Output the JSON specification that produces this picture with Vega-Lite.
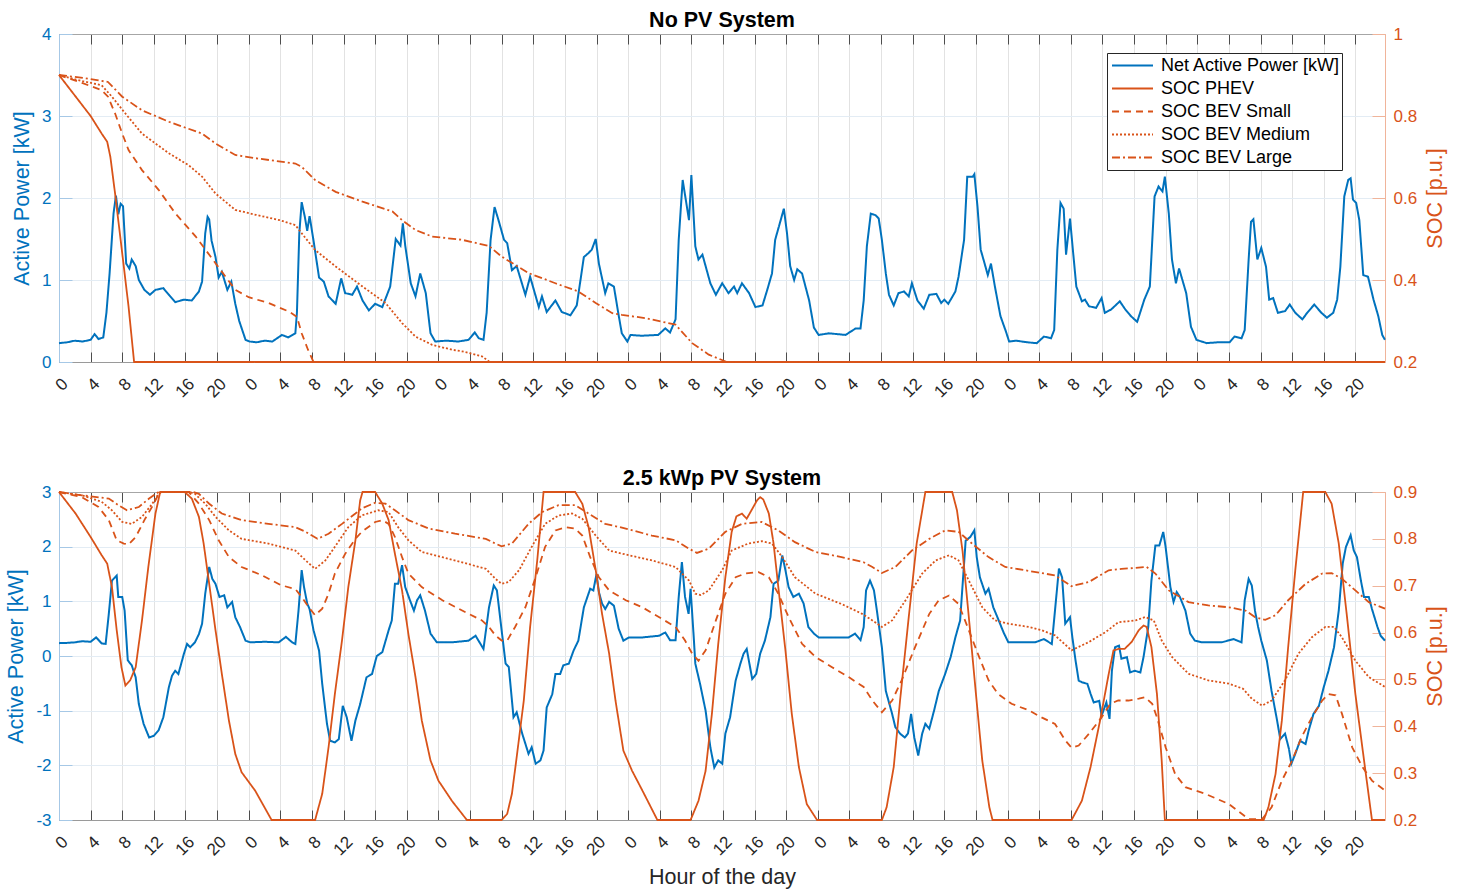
{
"$schema": "https://vega.github.io/schema/vega-lite/v6.json",
"padding": {"left": 5, "top": 9, "right": 5, "bottom": 5},
"background": "white",
"config": {
  "font": "Liberation Sans",
  "view": {"stroke": null},
  "title": {"fontSize": 21.5, "fontWeight": "bold", "color": "#000000", "offset": -6, "font": "Liberation Sans", "anchor": "middle", "frame": "group"},
  "axis": {"labelFont": "Liberation Sans", "titleFont": "Liberation Sans", "labelFontSize": 17, "titleFontSize": 21.5, "titleFontWeight": "normal"}
},
"datasets": {
"topP": [
{"h":0,"p":0.23},{"h":1,"p":0.24},{"h":2,"p":0.26},{"h":3,"p":0.25},{"h":4,"p":0.27},{"h":4.5,"p":0.34},{"h":5,"p":0.28},{"h":5.6,"p":0.3},{"h":6,"p":0.6},{"h":6.4,"p":1.08},{"h":6.9,"p":1.81},{"h":7.2,"p":2.03},{"h":7.5,"p":1.8},{"h":7.8,"p":1.93},{"h":8.1,"p":1.9},{"h":8.5,"p":1.2},{"h":8.9,"p":1.14},{"h":9.2,"p":1.25},{"h":9.7,"p":1.17},{"h":10.1,"p":1.0},{"h":10.8,"p":0.88},{"h":11.5,"p":0.82},{"h":12.2,"p":0.88},{"h":13.2,"p":0.9},{"h":13.9,"p":0.82},{"h":14.7,"p":0.73},{"h":15.8,"p":0.76},{"h":16.8,"p":0.75},{"h":17.7,"p":0.86},{"h":18.1,"p":0.98},{"h":18.5,"p":1.57},{"h":18.8,"p":1.77},{"h":19.0,"p":1.74},{"h":19.3,"p":1.48},{"h":19.8,"p":1.28},{"h":20.2,"p":1.03},{"h":20.6,"p":1.1},{"h":21.3,"p":0.88},{"h":21.8,"p":0.98},{"h":22.3,"p":0.71},{"h":22.8,"p":0.5},{"h":23.6,"p":0.27},{"h":24.1,"p":0.25},{"h":25,"p":0.24},{"h":26,"p":0.26},{"h":27,"p":0.25},{"h":28.2,"p":0.33},{"h":29,"p":0.3},{"h":29.9,"p":0.35},{"h":30.1,"p":0.6},{"h":30.4,"p":1.57},{"h":30.7,"p":1.95},{"h":31.1,"p":1.77},{"h":31.4,"p":1.6},{"h":31.7,"p":1.78},{"h":32.2,"p":1.48},{"h":32.9,"p":1.03},{"h":33.5,"p":0.98},{"h":34.1,"p":0.8},{"h":35,"p":0.71},{"h":35.7,"p":1.02},{"h":36.2,"p":0.84},{"h":37.1,"p":0.82},{"h":37.7,"p":0.92},{"h":38.4,"p":0.75},{"h":39.2,"p":0.63},{"h":40,"p":0.71},{"h":40.9,"p":0.67},{"h":41.9,"p":0.92},{"h":42.6,"p":1.5},{"h":43.2,"p":1.42},{"h":43.5,"p":1.69},{"h":43.8,"p":1.42},{"h":44.5,"p":0.96},{"h":45.1,"p":0.8},{"h":45.7,"p":1.08},{"h":46.4,"p":0.84},{"h":47,"p":0.35},{"h":47.6,"p":0.25},{"h":49,"p":0.26},{"h":50.5,"p":0.25},{"h":51.8,"p":0.27},{"h":52.6,"p":0.36},{"h":53.1,"p":0.29},{"h":53.7,"p":0.27},{"h":54.1,"p":0.6},{"h":54.6,"p":1.49},{"h":55.1,"p":1.89},{"h":55.6,"p":1.73},{"h":56.3,"p":1.49},{"h":56.7,"p":1.45},{"h":57.3,"p":1.12},{"h":57.9,"p":1.17},{"h":59,"p":0.82},{"h":59.6,"p":1.04},{"h":60.7,"p":0.67},{"h":61.1,"p":0.8},{"h":61.7,"p":0.61},{"h":62.8,"p":0.75},{"h":63.6,"p":0.61},{"h":64.7,"p":0.57},{"h":65.5,"p":0.69},{"h":66.4,"p":1.28},{"h":67,"p":1.33},{"h":67.4,"p":1.37},{"h":67.9,"p":1.5},{"h":68.3,"p":1.2},{"h":69.1,"p":0.84},{"h":69.5,"p":0.96},{"h":70.2,"p":0.92},{"h":70.8,"p":0.57},{"h":71.2,"p":0.35},{"h":71.9,"p":0.25},{"h":72.3,"p":0.33},{"h":73.7,"p":0.32},{"h":75.8,"p":0.33},{"h":76.7,"p":0.41},{"h":77.3,"p":0.36},{"h":78,"p":0.52},{"h":78.4,"p":1.49},{"h":78.9,"p":2.22},{"h":79.7,"p":1.73},{"h":80,"p":2.28},{"h":80.5,"p":1.41},{"h":80.9,"p":1.25},{"h":81.4,"p":1.31},{"h":81.8,"p":1.17},{"h":82.4,"p":0.96},{"h":83.1,"p":0.82},{"h":83.9,"p":0.96},{"h":84.7,"p":0.84},{"h":85.4,"p":0.92},{"h":85.8,"p":0.84},{"h":86.4,"p":0.96},{"h":87.3,"p":0.84},{"h":88.1,"p":0.67},{"h":89,"p":0.69},{"h":89.6,"p":0.88},{"h":90.2,"p":1.08},{"h":90.6,"p":1.49},{"h":91.3,"p":1.73},{"h":91.7,"p":1.87},{"h":92.1,"p":1.57},{"h":92.5,"p":1.17},{"h":93,"p":1.0},{"h":93.4,"p":1.13},{"h":94,"p":1.08},{"h":94.9,"p":0.75},{"h":95.5,"p":0.42},{"h":96.1,"p":0.33},{"h":97.4,"p":0.35},{"h":99.5,"p":0.33},{"h":100.8,"p":0.41},{"h":101.4,"p":0.41},{"h":101.8,"p":0.75},{"h":102.2,"p":1.41},{"h":102.7,"p":1.81},{"h":103.3,"p":1.79},{"h":103.7,"p":1.75},{"h":104.1,"p":1.49},{"h":104.6,"p":1.08},{"h":105,"p":0.82},{"h":105.6,"p":0.69},{"h":106.2,"p":0.84},{"h":106.9,"p":0.86},{"h":107.5,"p":0.8},{"h":107.9,"p":0.96},{"h":108.6,"p":0.75},{"h":109.4,"p":0.65},{"h":110.1,"p":0.82},{"h":111,"p":0.83},{"h":111.6,"p":0.72},{"h":112,"p":0.76},{"h":112.5,"p":0.71},{"h":113.4,"p":0.86},{"h":113.8,"p":1.04},{"h":114.5,"p":1.49},{"h":114.9,"p":2.26},{"h":115.6,"p":2.26},{"h":115.8,"p":2.29},{"h":116.2,"p":1.89},{"h":116.6,"p":1.37},{"h":117.1,"p":1.2},{"h":117.5,"p":1.06},{"h":117.9,"p":1.2},{"h":118.4,"p":0.92},{"h":119.1,"p":0.56},{"h":119.8,"p":0.37},{"h":120.2,"p":0.25},{"h":121.1,"p":0.26},{"h":122.5,"p":0.24},{"h":123.7,"p":0.23},{"h":124.6,"p":0.31},{"h":125.5,"p":0.29},{"h":125.9,"p":0.39},{"h":126.3,"p":1.37},{"h":126.7,"p":1.94},{"h":127.1,"p":1.87},{"h":127.4,"p":1.31},{"h":127.9,"p":1.75},{"h":128.3,"p":1.33},{"h":128.7,"p":0.92},{"h":129.4,"p":0.74},{"h":129.8,"p":0.76},{"h":130.3,"p":0.68},{"h":131.2,"p":0.66},{"h":131.9,"p":0.78},{"h":132.3,"p":0.6},{"h":133.1,"p":0.64},{"h":134.2,"p":0.74},{"h":134.9,"p":0.64},{"h":135.6,"p":0.56},{"h":136.4,"p":0.49},{"h":137.3,"p":0.76},{"h":138,"p":0.92},{"h":138.6,"p":2.02},{"h":139.1,"p":2.14},{"h":139.6,"p":2.08},{"h":139.9,"p":2.26},{"h":140.4,"p":1.81},{"h":140.8,"p":1.25},{"h":141.3,"p":0.96},{"h":141.7,"p":1.14},{"h":142.6,"p":0.84},{"h":143.2,"p":0.43},{"h":143.9,"p":0.27},{"h":145.2,"p":0.23},{"h":146.5,"p":0.24},{"h":148.1,"p":0.24},{"h":148.7,"p":0.31},{"h":149.6,"p":0.29},{"h":150,"p":0.39},{"h":150.5,"p":1.25},{"h":150.8,"p":1.71},{"h":151.1,"p":1.74},{"h":151.6,"p":1.25},{"h":152.1,"p":1.39},{"h":152.7,"p":1.16},{"h":153.1,"p":0.76},{"h":153.6,"p":0.78},{"h":154.2,"p":0.6},{"h":155.1,"p":0.62},{"h":155.7,"p":0.7},{"h":156.4,"p":0.6},{"h":157.3,"p":0.52},{"h":157.9,"p":0.6},{"h":158.8,"p":0.7},{"h":159.7,"p":0.6},{"h":160.4,"p":0.54},{"h":161.2,"p":0.6},{"h":161.7,"p":0.76},{"h":162.1,"p":1.16},{"h":162.6,"p":2.02},{"h":163.1,"p":2.22},{"h":163.4,"p":2.24},{"h":163.7,"p":1.98},{"h":164.1,"p":1.94},{"h":164.5,"p":1.73},{"h":165,"p":1.06},{"h":165.6,"p":1.04},{"h":166.3,"p":0.76},{"h":166.9,"p":0.56},{"h":167.4,"p":0.33},{"h":167.75,"p":0.27}
],
"topS": [
{"s":"SOC PHEV","h":0,"v":0.9},{"s":"SOC PHEV","h":2,"v":0.85},{"s":"SOC PHEV","h":4,"v":0.8},{"s":"SOC PHEV","h":5.4,"v":0.757},{"s":"SOC PHEV","h":6.1,"v":0.737},{"s":"SOC PHEV","h":6.5,"v":0.7},{"s":"SOC PHEV","h":7.1,"v":0.61},{"s":"SOC PHEV","h":8,"v":0.465},{"s":"SOC PHEV","h":8.8,"v":0.335},{"s":"SOC PHEV","h":9.5,"v":0.2},{"s":"SOC PHEV","h":167.75,"v":0.2},
{"s":"SOC BEV Small","h":0,"v":0.9},{"s":"SOC BEV Small","h":3,"v":0.88},{"s":"SOC BEV Small","h":5.4,"v":0.863},{"s":"SOC BEV Small","h":6.2,"v":0.847},{"s":"SOC BEV Small","h":7.1,"v":0.806},{"s":"SOC BEV Small","h":8,"v":0.757},{"s":"SOC BEV Small","h":8.8,"v":0.717},{"s":"SOC BEV Small","h":10.5,"v":0.668},{"s":"SOC BEV Small","h":12.6,"v":0.62},{"s":"SOC BEV Small","h":14.7,"v":0.563},{"s":"SOC BEV Small","h":17.3,"v":0.506},{"s":"SOC BEV Small","h":19.8,"v":0.441},{"s":"SOC BEV Small","h":22.3,"v":0.376},{"s":"SOC BEV Small","h":24,"v":0.358},{"s":"SOC BEV Small","h":26.5,"v":0.344},{"s":"SOC BEV Small","h":29.2,"v":0.322},{"s":"SOC BEV Small","h":30.1,"v":0.31},{"s":"SOC BEV Small","h":30.7,"v":0.27},{"s":"SOC BEV Small","h":31.5,"v":0.23},{"s":"SOC BEV Small","h":32.2,"v":0.2},{"s":"SOC BEV Small","h":167.75,"v":0.2},
{"s":"SOC BEV Medium","h":0,"v":0.9},{"s":"SOC BEV Medium","h":3,"v":0.885},{"s":"SOC BEV Medium","h":5.4,"v":0.875},{"s":"SOC BEV Medium","h":6.7,"v":0.847},{"s":"SOC BEV Medium","h":8.4,"v":0.806},{"s":"SOC BEV Medium","h":10.5,"v":0.757},{"s":"SOC BEV Medium","h":13.9,"v":0.709},{"s":"SOC BEV Medium","h":16.4,"v":0.68},{"s":"SOC BEV Medium","h":18.1,"v":0.652},{"s":"SOC BEV Medium","h":19.8,"v":0.611},{"s":"SOC BEV Medium","h":22.3,"v":0.571},{"s":"SOC BEV Medium","h":24.9,"v":0.559},{"s":"SOC BEV Medium","h":27.9,"v":0.546},{"s":"SOC BEV Medium","h":29.9,"v":0.534},{"s":"SOC BEV Medium","h":30.7,"v":0.514},{"s":"SOC BEV Medium","h":32.4,"v":0.473},{"s":"SOC BEV Medium","h":35,"v":0.433},{"s":"SOC BEV Medium","h":38.4,"v":0.384},{"s":"SOC BEV Medium","h":41.3,"v":0.344},{"s":"SOC BEV Medium","h":43.4,"v":0.295},{"s":"SOC BEV Medium","h":45.1,"v":0.262},{"s":"SOC BEV Medium","h":47.2,"v":0.242},{"s":"SOC BEV Medium","h":49.7,"v":0.23},{"s":"SOC BEV Medium","h":51,"v":0.226},{"s":"SOC BEV Medium","h":53.5,"v":0.214},{"s":"SOC BEV Medium","h":54.5,"v":0.2},{"s":"SOC BEV Medium","h":167.75,"v":0.2},
{"s":"SOC BEV Large","h":0,"v":0.9},{"s":"SOC BEV Large","h":3,"v":0.893},{"s":"SOC BEV Large","h":6.2,"v":0.883},{"s":"SOC BEV Large","h":8,"v":0.847},{"s":"SOC BEV Large","h":10.5,"v":0.814},{"s":"SOC BEV Large","h":13.9,"v":0.786},{"s":"SOC BEV Large","h":18.1,"v":0.757},{"s":"SOC BEV Large","h":19.8,"v":0.733},{"s":"SOC BEV Large","h":22.3,"v":0.705},{"s":"SOC BEV Large","h":24.9,"v":0.697},{"s":"SOC BEV Large","h":29.9,"v":0.684},{"s":"SOC BEV Large","h":30.7,"v":0.676},{"s":"SOC BEV Large","h":32.4,"v":0.644},{"s":"SOC BEV Large","h":35,"v":0.615},{"s":"SOC BEV Large","h":38.4,"v":0.591},{"s":"SOC BEV Large","h":42.2,"v":0.567},{"s":"SOC BEV Large","h":43.4,"v":0.546},{"s":"SOC BEV Large","h":45.1,"v":0.522},{"s":"SOC BEV Large","h":47.2,"v":0.506},{"s":"SOC BEV Large","h":51,"v":0.498},{"s":"SOC BEV Large","h":54.4,"v":0.483},{"s":"SOC BEV Large","h":56,"v":0.457},{"s":"SOC BEV Large","h":59.4,"v":0.417},{"s":"SOC BEV Large","h":62.8,"v":0.392},{"s":"SOC BEV Large","h":65.7,"v":0.372},{"s":"SOC BEV Large","h":67.9,"v":0.344},{"s":"SOC BEV Large","h":70,"v":0.319},{"s":"SOC BEV Large","h":71.2,"v":0.315},{"s":"SOC BEV Large","h":74.2,"v":0.307},{"s":"SOC BEV Large","h":78,"v":0.291},{"s":"SOC BEV Large","h":80.1,"v":0.246},{"s":"SOC BEV Large","h":82.2,"v":0.218},{"s":"SOC BEV Large","h":84.5,"v":0.2},{"s":"SOC BEV Large","h":167.75,"v":0.2}
],
"botP": [
{"h":0,"p":0.235},{"h":1,"p":0.24},{"h":2,"p":0.25},{"h":2.9,"p":0.27},{"h":4,"p":0.26},{"h":4.7,"p":0.34},{"h":5.4,"p":0.23},{"h":5.9,"p":0.22},{"h":6.3,"p":0.77},{"h":6.7,"p":1.38},{"h":7.3,"p":1.47},{"h":7.5,"p":1.08},{"h":8,"p":1.08},{"h":8.3,"p":0.83},{"h":8.7,"p":-0.08},{"h":9.2,"p":-0.17},{"h":9.7,"p":-0.39},{"h":10.1,"p":-0.88},{"h":10.7,"p":-1.24},{"h":11.4,"p":-1.49},{"h":12,"p":-1.46},{"h":12.6,"p":-1.36},{"h":13.2,"p":-1.12},{"h":13.9,"p":-0.57},{"h":14.3,"p":-0.36},{"h":14.7,"p":-0.27},{"h":15.1,"p":-0.33},{"h":15.8,"p":0.04},{"h":16.2,"p":0.22},{"h":16.6,"p":0.16},{"h":17.2,"p":0.25},{"h":17.7,"p":0.4},{"h":18.1,"p":0.59},{"h":18.5,"p":1.14},{"h":19,"p":1.63},{"h":19.4,"p":1.41},{"h":19.8,"p":1.32},{"h":20.3,"p":1.08},{"h":20.9,"p":1.11},{"h":21.3,"p":0.89},{"h":21.9,"p":0.99},{"h":22.3,"p":0.71},{"h":22.9,"p":0.53},{"h":23.6,"p":0.28},{"h":24.2,"p":0.25},{"h":26,"p":0.26},{"h":27.8,"p":0.25},{"h":28.7,"p":0.35},{"h":29.5,"p":0.25},{"h":29.9,"p":0.22},{"h":30.3,"p":0.83},{"h":30.7,"p":1.57},{"h":31,"p":1.26},{"h":31.4,"p":0.96},{"h":31.7,"p":0.86},{"h":32.2,"p":0.47},{"h":32.9,"p":0.1},{"h":33.3,"p":-0.51},{"h":33.9,"p":-1.24},{"h":34.3,"p":-1.55},{"h":34.9,"p":-1.58},{"h":35.4,"p":-1.52},{"h":35.9,"p":-0.91},{"h":36.4,"p":-1.12},{"h":37,"p":-1.55},{"h":37.5,"p":-1.18},{"h":38.1,"p":-0.88},{"h":38.9,"p":-0.39},{"h":39.6,"p":-0.33},{"h":40.2,"p":0.0},{"h":40.9,"p":0.07},{"h":41.7,"p":0.47},{"h":42.1,"p":0.65},{"h":42.5,"p":1.32},{"h":42.9,"p":1.32},{"h":43.4,"p":1.66},{"h":43.8,"p":1.26},{"h":44.4,"p":1.02},{"h":44.9,"p":0.83},{"h":45.3,"p":1.02},{"h":45.7,"p":1.11},{"h":46.3,"p":0.83},{"h":47,"p":0.41},{"h":47.8,"p":0.25},{"h":49.7,"p":0.25},{"h":51.8,"p":0.28},{"h":52.7,"p":0.37},{"h":53.7,"p":0.13},{"h":54.4,"p":0.89},{"h":55,"p":1.29},{"h":55.4,"p":1.2},{"h":55.8,"p":0.71},{"h":56.5,"p":-0.14},{"h":56.9,"p":-0.2},{"h":57.5,"p":-1.12},{"h":57.9,"p":-1.03},{"h":58.6,"p":-1.42},{"h":59.4,"p":-1.79},{"h":59.8,"p":-1.67},{"h":60.3,"p":-1.97},{"h":60.9,"p":-1.91},{"h":61.3,"p":-1.73},{"h":61.7,"p":-0.94},{"h":62.4,"p":-0.7},{"h":62.8,"p":-0.33},{"h":63.4,"p":-0.33},{"h":63.8,"p":-0.17},{"h":64.5,"p":-0.14},{"h":65.1,"p":0.1},{"h":65.7,"p":0.28},{"h":66.4,"p":0.89},{"h":67.2,"p":1.23},{"h":67.6,"p":1.2},{"h":68,"p":1.5},{"h":68.3,"p":1.17},{"h":68.7,"p":0.96},{"h":69.1,"p":0.86},{"h":69.6,"p":0.99},{"h":70.2,"p":0.92},{"h":70.8,"p":0.5},{"h":71.4,"p":0.28},{"h":72.1,"p":0.34},{"h":73.8,"p":0.34},{"h":75.9,"p":0.37},{"h":76.7,"p":0.43},{"h":77.3,"p":0.29},{"h":78,"p":0.29},{"h":78.4,"p":1.08},{"h":78.8,"p":1.72},{"h":79.2,"p":1.08},{"h":79.65,"p":0.77},{"h":79.9,"p":1.23},{"h":80.3,"p":0.34},{"h":80.5,"p":-0.14},{"h":81.1,"p":-0.51},{"h":81.8,"p":-1.0},{"h":82.4,"p":-1.67},{"h":82.9,"p":-2.04},{"h":83.4,"p":-1.91},{"h":83.9,"p":-1.97},{"h":84.3,"p":-1.42},{"h":84.9,"p":-1.12},{"h":85.6,"p":-0.45},{"h":86.2,"p":-0.14},{"h":86.6,"p":0.04},{"h":87,"p":0.13},{"h":87.7,"p":-0.42},{"h":88.2,"p":-0.33},{"h":88.7,"p":0.04},{"h":89.3,"p":0.28},{"h":90,"p":0.71},{"h":90.4,"p":1.32},{"h":91,"p":1.38},{"h":91.5,"p":1.84},{"h":91.9,"p":1.57},{"h":92.3,"p":1.26},{"h":92.9,"p":1.08},{"h":93.6,"p":1.14},{"h":94.2,"p":0.96},{"h":94.8,"p":0.53},{"h":95.5,"p":0.41},{"h":96.1,"p":0.34},{"h":97.8,"p":0.34},{"h":99.9,"p":0.34},{"h":100.7,"p":0.41},{"h":101.4,"p":0.29},{"h":101.8,"p":0.53},{"h":102.1,"p":1.2},{"h":102.6,"p":1.38},{"h":103.1,"p":1.2},{"h":103.5,"p":0.8},{"h":104.1,"p":0.16},{"h":104.6,"p":-0.64},{"h":105.4,"p":-1.06},{"h":105.8,"p":-1.3},{"h":106.4,"p":-1.42},{"h":107,"p":-1.49},{"h":107.4,"p":-1.42},{"h":107.8,"p":-1.06},{"h":108.2,"p":-1.49},{"h":108.7,"p":-1.82},{"h":109.2,"p":-1.42},{"h":109.6,"p":-1.24},{"h":110.1,"p":-1.33},{"h":110.7,"p":-1.0},{"h":111.3,"p":-0.64},{"h":112.1,"p":-0.33},{"h":112.8,"p":-0.02},{"h":113.4,"p":0.34},{"h":114,"p":0.65},{"h":114.7,"p":2.11},{"h":115.3,"p":2.18},{"h":115.8,"p":2.3},{"h":116.1,"p":1.81},{"h":116.5,"p":1.44},{"h":117.2,"p":1.14},{"h":117.6,"p":1.23},{"h":118.2,"p":0.89},{"h":118.8,"p":0.68},{"h":119.5,"p":0.43},{"h":120.1,"p":0.25},{"h":122,"p":0.25},{"h":123.5,"p":0.25},{"h":124.6,"p":0.31},{"h":125.6,"p":0.22},{"h":126,"p":0.83},{"h":126.5,"p":1.6},{"h":126.9,"p":1.44},{"h":127.3,"p":0.59},{"h":127.9,"p":0.71},{"h":128.2,"p":0.34},{"h":128.6,"p":-0.08},{"h":129,"p":-0.45},{"h":129.4,"p":-0.48},{"h":130.1,"p":-0.51},{"h":130.5,"p":-0.69},{"h":130.9,"p":-0.85},{"h":131.6,"p":-0.82},{"h":131.9,"p":-1.09},{"h":132.5,"p":-0.85},{"h":132.9,"p":-1.15},{"h":133.2,"p":-0.27},{"h":133.6,"p":0.16},{"h":134.1,"p":0.19},{"h":134.4,"p":-0.05},{"h":135.1,"p":-0.02},{"h":135.5,"p":-0.3},{"h":136.1,"p":-0.27},{"h":136.8,"p":-0.3},{"h":137.2,"p":-0.02},{"h":137.8,"p":0.53},{"h":138.2,"p":1.38},{"h":138.7,"p":2.02},{"h":139.2,"p":2.02},{"h":139.7,"p":2.27},{"h":140,"p":1.99},{"h":140.6,"p":1.26},{"h":141,"p":0.99},{"h":141.4,"p":1.17},{"h":141.8,"p":1.08},{"h":142.5,"p":0.83},{"h":143.1,"p":0.41},{"h":143.7,"p":0.28},{"h":144.6,"p":0.25},{"h":147.1,"p":0.25},{"h":148.6,"p":0.31},{"h":149.6,"p":0.25},{"h":150,"p":1.02},{"h":150.5,"p":1.41},{"h":150.9,"p":1.29},{"h":151.3,"p":0.83},{"h":151.7,"p":0.53},{"h":152.1,"p":0.28},{"h":152.8,"p":-0.08},{"h":153.4,"p":-0.64},{"h":154.1,"p":-1.18},{"h":154.5,"p":-1.52},{"h":155.1,"p":-1.42},{"h":155.6,"p":-1.7},{"h":155.9,"p":-1.97},{"h":156.4,"p":-1.79},{"h":157,"p":-1.55},{"h":157.7,"p":-1.61},{"h":158.1,"p":-1.36},{"h":158.7,"p":-1.06},{"h":159.4,"p":-0.91},{"h":160,"p":-0.57},{"h":160.6,"p":-0.27},{"h":161.3,"p":0.16},{"h":161.9,"p":0.83},{"h":162.4,"p":1.69},{"h":162.8,"p":1.99},{"h":163.4,"p":2.21},{"h":163.8,"p":1.93},{"h":164.2,"p":1.81},{"h":164.7,"p":1.38},{"h":165.1,"p":1.08},{"h":165.7,"p":1.08},{"h":166.1,"p":0.86},{"h":166.8,"p":0.53},{"h":167.2,"p":0.37},{"h":167.75,"p":0.28}
],
"botS": [
{"s":"SOC PHEV","h":0,"v":0.9},{"s":"SOC PHEV","h":2.1,"v":0.854},{"s":"SOC PHEV","h":4,"v":0.804},{"s":"SOC PHEV","h":5.4,"v":0.765},{"s":"SOC PHEV","h":6.1,"v":0.747},{"s":"SOC PHEV","h":6.7,"v":0.697},{"s":"SOC PHEV","h":7.3,"v":0.605},{"s":"SOC PHEV","h":7.9,"v":0.526},{"s":"SOC PHEV","h":8.4,"v":0.487},{"s":"SOC PHEV","h":9,"v":0.498},{"s":"SOC PHEV","h":9.7,"v":0.526},{"s":"SOC PHEV","h":10.5,"v":0.626},{"s":"SOC PHEV","h":11.3,"v":0.74},{"s":"SOC PHEV","h":12.2,"v":0.854},{"s":"SOC PHEV","h":12.8,"v":0.9},{"s":"SOC PHEV","h":15.9,"v":0.9},{"s":"SOC PHEV","h":16.8,"v":0.886},{"s":"SOC PHEV","h":17.7,"v":0.847},{"s":"SOC PHEV","h":18.3,"v":0.79},{"s":"SOC PHEV","h":19,"v":0.704},{"s":"SOC PHEV","h":19.8,"v":0.605},{"s":"SOC PHEV","h":20.6,"v":0.512},{"s":"SOC PHEV","h":21.5,"v":0.412},{"s":"SOC PHEV","h":22.3,"v":0.341},{"s":"SOC PHEV","h":23.1,"v":0.302},{"s":"SOC PHEV","h":24.8,"v":0.263},{"s":"SOC PHEV","h":26.9,"v":0.2},{"s":"SOC PHEV","h":32.4,"v":0.2},{"s":"SOC PHEV","h":33.3,"v":0.256},{"s":"SOC PHEV","h":34.1,"v":0.355},{"s":"SOC PHEV","h":34.9,"v":0.469},{"s":"SOC PHEV","h":35.8,"v":0.583},{"s":"SOC PHEV","h":36.6,"v":0.697},{"s":"SOC PHEV","h":37.5,"v":0.797},{"s":"SOC PHEV","h":38.1,"v":0.882},{"s":"SOC PHEV","h":38.4,"v":0.9},{"s":"SOC PHEV","h":40,"v":0.9},{"s":"SOC PHEV","h":40.9,"v":0.875},{"s":"SOC PHEV","h":41.7,"v":0.84},{"s":"SOC PHEV","h":42.5,"v":0.768},{"s":"SOC PHEV","h":43.4,"v":0.69},{"s":"SOC PHEV","h":44.2,"v":0.597},{"s":"SOC PHEV","h":45.1,"v":0.505},{"s":"SOC PHEV","h":45.9,"v":0.412},{"s":"SOC PHEV","h":47,"v":0.327},{"s":"SOC PHEV","h":48,"v":0.284},{"s":"SOC PHEV","h":49.7,"v":0.241},{"s":"SOC PHEV","h":51.6,"v":0.2},{"s":"SOC PHEV","h":56,"v":0.2},{"s":"SOC PHEV","h":56.7,"v":0.213},{"s":"SOC PHEV","h":57.3,"v":0.256},{"s":"SOC PHEV","h":57.9,"v":0.334},{"s":"SOC PHEV","h":58.8,"v":0.455},{"s":"SOC PHEV","h":59.6,"v":0.612},{"s":"SOC PHEV","h":60.5,"v":0.754},{"s":"SOC PHEV","h":61.3,"v":0.9},{"s":"SOC PHEV","h":65.3,"v":0.9},{"s":"SOC PHEV","h":66.2,"v":0.875},{"s":"SOC PHEV","h":67,"v":0.825},{"s":"SOC PHEV","h":67.9,"v":0.733},{"s":"SOC PHEV","h":68.7,"v":0.64},{"s":"SOC PHEV","h":69.6,"v":0.555},{"s":"SOC PHEV","h":70.4,"v":0.455},{"s":"SOC PHEV","h":71.4,"v":0.348},{"s":"SOC PHEV","h":72.5,"v":0.305},{"s":"SOC PHEV","h":73.8,"v":0.263},{"s":"SOC PHEV","h":75.7,"v":0.2},{"s":"SOC PHEV","h":79.9,"v":0.2},{"s":"SOC PHEV","h":80.9,"v":0.241},{"s":"SOC PHEV","h":81.8,"v":0.305},{"s":"SOC PHEV","h":82.6,"v":0.427},{"s":"SOC PHEV","h":83.4,"v":0.576},{"s":"SOC PHEV","h":84.3,"v":0.718},{"s":"SOC PHEV","h":85.1,"v":0.815},{"s":"SOC PHEV","h":85.7,"v":0.848},{"s":"SOC PHEV","h":86.4,"v":0.854},{"s":"SOC PHEV","h":87,"v":0.843},{"s":"SOC PHEV","h":87.6,"v":0.861},{"s":"SOC PHEV","h":88.3,"v":0.882},{"s":"SOC PHEV","h":88.7,"v":0.889},{"s":"SOC PHEV","h":89.1,"v":0.884},{"s":"SOC PHEV","h":89.8,"v":0.854},{"s":"SOC PHEV","h":90.4,"v":0.79},{"s":"SOC PHEV","h":91,"v":0.697},{"s":"SOC PHEV","h":91.9,"v":0.562},{"s":"SOC PHEV","h":92.7,"v":0.427},{"s":"SOC PHEV","h":93.6,"v":0.313},{"s":"SOC PHEV","h":94.6,"v":0.234},{"s":"SOC PHEV","h":95.9,"v":0.2},{"s":"SOC PHEV","h":104.1,"v":0.2},{"s":"SOC PHEV","h":104.7,"v":0.227},{"s":"SOC PHEV","h":105.6,"v":0.313},{"s":"SOC PHEV","h":106.4,"v":0.455},{"s":"SOC PHEV","h":107.5,"v":0.633},{"s":"SOC PHEV","h":108.5,"v":0.79},{"s":"SOC PHEV","h":109.6,"v":0.9},{"s":"SOC PHEV","h":113,"v":0.9},{"s":"SOC PHEV","h":113.6,"v":0.861},{"s":"SOC PHEV","h":114.3,"v":0.775},{"s":"SOC PHEV","h":115.1,"v":0.633},{"s":"SOC PHEV","h":116,"v":0.469},{"s":"SOC PHEV","h":116.8,"v":0.327},{"s":"SOC PHEV","h":117.7,"v":0.227},{"s":"SOC PHEV","h":118.1,"v":0.2},{"s":"SOC PHEV","h":128.1,"v":0.2},{"s":"SOC PHEV","h":129.4,"v":0.241},{"s":"SOC PHEV","h":130.5,"v":0.313},{"s":"SOC PHEV","h":131.7,"v":0.412},{"s":"SOC PHEV","h":132.8,"v":0.512},{"s":"SOC PHEV","h":133.4,"v":0.562},{"s":"SOC PHEV","h":134,"v":0.565},{"s":"SOC PHEV","h":134.8,"v":0.565},{"s":"SOC PHEV","h":135.7,"v":0.58},{"s":"SOC PHEV","h":136.6,"v":0.605},{"s":"SOC PHEV","h":137.2,"v":0.615},{"s":"SOC PHEV","h":137.6,"v":0.612},{"s":"SOC PHEV","h":138.2,"v":0.569},{"s":"SOC PHEV","h":138.9,"v":0.469},{"s":"SOC PHEV","h":139.5,"v":0.327},{"s":"SOC PHEV","h":139.9,"v":0.2},{"s":"SOC PHEV","h":152.4,"v":0.2},{"s":"SOC PHEV","h":153,"v":0.227},{"s":"SOC PHEV","h":153.9,"v":0.298},{"s":"SOC PHEV","h":154.7,"v":0.412},{"s":"SOC PHEV","h":155.5,"v":0.569},{"s":"SOC PHEV","h":156.4,"v":0.733},{"s":"SOC PHEV","h":157.4,"v":0.9},{"s":"SOC PHEV","h":160.2,"v":0.9},{"s":"SOC PHEV","h":161,"v":0.875},{"s":"SOC PHEV","h":161.9,"v":0.79},{"s":"SOC PHEV","h":162.9,"v":0.64},{"s":"SOC PHEV","h":164,"v":0.469},{"s":"SOC PHEV","h":165.1,"v":0.327},{"s":"SOC PHEV","h":166.1,"v":0.2},{"s":"SOC PHEV","h":167.75,"v":0.2},
{"s":"SOC BEV Small","h":0,"v":0.9},{"s":"SOC BEV Small","h":2.9,"v":0.889},{"s":"SOC BEV Small","h":5,"v":0.868},{"s":"SOC BEV Small","h":6.3,"v":0.84},{"s":"SOC BEV Small","h":7.3,"v":0.797},{"s":"SOC BEV Small","h":8.2,"v":0.79},{"s":"SOC BEV Small","h":8.8,"v":0.788},{"s":"SOC BEV Small","h":9.7,"v":0.804},{"s":"SOC BEV Small","h":10.9,"v":0.843},{"s":"SOC BEV Small","h":12,"v":0.875},{"s":"SOC BEV Small","h":12.6,"v":0.896},{"s":"SOC BEV Small","h":13,"v":0.9},{"s":"SOC BEV Small","h":16.4,"v":0.9},{"s":"SOC BEV Small","h":17.7,"v":0.875},{"s":"SOC BEV Small","h":19,"v":0.84},{"s":"SOC BEV Small","h":20.2,"v":0.797},{"s":"SOC BEV Small","h":21.5,"v":0.761},{"s":"SOC BEV Small","h":23.1,"v":0.74},{"s":"SOC BEV Small","h":25.7,"v":0.722},{"s":"SOC BEV Small","h":28.1,"v":0.701},{"s":"SOC BEV Small","h":29.9,"v":0.693},{"s":"SOC BEV Small","h":30.7,"v":0.676},{"s":"SOC BEV Small","h":31.6,"v":0.654},{"s":"SOC BEV Small","h":32.4,"v":0.637},{"s":"SOC BEV Small","h":33.3,"v":0.651},{"s":"SOC BEV Small","h":34.1,"v":0.683},{"s":"SOC BEV Small","h":34.9,"v":0.726},{"s":"SOC BEV Small","h":36.2,"v":0.768},{"s":"SOC BEV Small","h":37.5,"v":0.8},{"s":"SOC BEV Small","h":38.3,"v":0.815},{"s":"SOC BEV Small","h":40,"v":0.836},{"s":"SOC BEV Small","h":40.9,"v":0.84},{"s":"SOC BEV Small","h":41.7,"v":0.832},{"s":"SOC BEV Small","h":42.5,"v":0.804},{"s":"SOC BEV Small","h":43.4,"v":0.761},{"s":"SOC BEV Small","h":44.2,"v":0.726},{"s":"SOC BEV Small","h":45.9,"v":0.697},{"s":"SOC BEV Small","h":48.5,"v":0.669},{"s":"SOC BEV Small","h":51,"v":0.647},{"s":"SOC BEV Small","h":53.5,"v":0.626},{"s":"SOC BEV Small","h":54.4,"v":0.612},{"s":"SOC BEV Small","h":55.2,"v":0.594},{"s":"SOC BEV Small","h":56,"v":0.583},{"s":"SOC BEV Small","h":56.7,"v":0.583},{"s":"SOC BEV Small","h":57.7,"v":0.612},{"s":"SOC BEV Small","h":59,"v":0.654},{"s":"SOC BEV Small","h":60.3,"v":0.718},{"s":"SOC BEV Small","h":61.5,"v":0.783},{"s":"SOC BEV Small","h":62.8,"v":0.818},{"s":"SOC BEV Small","h":64.1,"v":0.825},{"s":"SOC BEV Small","h":65.3,"v":0.822},{"s":"SOC BEV Small","h":66.2,"v":0.807},{"s":"SOC BEV Small","h":67.2,"v":0.761},{"s":"SOC BEV Small","h":68.3,"v":0.718},{"s":"SOC BEV Small","h":69.6,"v":0.69},{"s":"SOC BEV Small","h":71.7,"v":0.669},{"s":"SOC BEV Small","h":73.8,"v":0.654},{"s":"SOC BEV Small","h":76.3,"v":0.629},{"s":"SOC BEV Small","h":78,"v":0.612},{"s":"SOC BEV Small","h":79.2,"v":0.583},{"s":"SOC BEV Small","h":80.1,"v":0.555},{"s":"SOC BEV Small","h":80.9,"v":0.54},{"s":"SOC BEV Small","h":81.8,"v":0.562},{"s":"SOC BEV Small","h":83.1,"v":0.626},{"s":"SOC BEV Small","h":84.3,"v":0.683},{"s":"SOC BEV Small","h":85.6,"v":0.718},{"s":"SOC BEV Small","h":86.8,"v":0.726},{"s":"SOC BEV Small","h":88.5,"v":0.729},{"s":"SOC BEV Small","h":89.8,"v":0.718},{"s":"SOC BEV Small","h":91,"v":0.683},{"s":"SOC BEV Small","h":92.3,"v":0.633},{"s":"SOC BEV Small","h":94,"v":0.576},{"s":"SOC BEV Small","h":95.7,"v":0.548},{"s":"SOC BEV Small","h":97.8,"v":0.526},{"s":"SOC BEV Small","h":99.9,"v":0.505},{"s":"SOC BEV Small","h":101.8,"v":0.484},{"s":"SOC BEV Small","h":102.9,"v":0.455},{"s":"SOC BEV Small","h":104.1,"v":0.43},{"s":"SOC BEV Small","h":105.4,"v":0.455},{"s":"SOC BEV Small","h":106.6,"v":0.498},{"s":"SOC BEV Small","h":108.3,"v":0.569},{"s":"SOC BEV Small","h":110.1,"v":0.64},{"s":"SOC BEV Small","h":111.3,"v":0.669},{"s":"SOC BEV Small","h":112.6,"v":0.679},{"s":"SOC BEV Small","h":113.8,"v":0.661},{"s":"SOC BEV Small","h":115.1,"v":0.605},{"s":"SOC BEV Small","h":116.4,"v":0.548},{"s":"SOC BEV Small","h":117.6,"v":0.498},{"s":"SOC BEV Small","h":118.8,"v":0.469},{"s":"SOC BEV Small","h":120.5,"v":0.448},{"s":"SOC BEV Small","h":122.7,"v":0.434},{"s":"SOC BEV Small","h":124.3,"v":0.419},{"s":"SOC BEV Small","h":126,"v":0.405},{"s":"SOC BEV Small","h":127.3,"v":0.37},{"s":"SOC BEV Small","h":128.1,"v":0.354},{"s":"SOC BEV Small","h":129,"v":0.359},{"s":"SOC BEV Small","h":130.3,"v":0.384},{"s":"SOC BEV Small","h":131.9,"v":0.419},{"s":"SOC BEV Small","h":133,"v":0.448},{"s":"SOC BEV Small","h":134,"v":0.455},{"s":"SOC BEV Small","h":135.3,"v":0.455},{"s":"SOC BEV Small","h":136.6,"v":0.459},{"s":"SOC BEV Small","h":137.4,"v":0.462},{"s":"SOC BEV Small","h":138.3,"v":0.448},{"s":"SOC BEV Small","h":138.9,"v":0.419},{"s":"SOC BEV Small","h":140,"v":0.355},{"s":"SOC BEV Small","h":141.2,"v":0.298},{"s":"SOC BEV Small","h":142.5,"v":0.27},{"s":"SOC BEV Small","h":145,"v":0.256},{"s":"SOC BEV Small","h":148,"v":0.234},{"s":"SOC BEV Small","h":150.5,"v":0.202},{"s":"SOC BEV Small","h":152.2,"v":0.202},{"s":"SOC BEV Small","h":153.4,"v":0.227},{"s":"SOC BEV Small","h":154.7,"v":0.284},{"s":"SOC BEV Small","h":156,"v":0.327},{"s":"SOC BEV Small","h":157.2,"v":0.377},{"s":"SOC BEV Small","h":158.5,"v":0.419},{"s":"SOC BEV Small","h":159.8,"v":0.455},{"s":"SOC BEV Small","h":160.6,"v":0.469},{"s":"SOC BEV Small","h":161.5,"v":0.466},{"s":"SOC BEV Small","h":162.3,"v":0.427},{"s":"SOC BEV Small","h":163.6,"v":0.355},{"s":"SOC BEV Small","h":164.9,"v":0.313},{"s":"SOC BEV Small","h":166.1,"v":0.284},{"s":"SOC BEV Small","h":167.75,"v":0.263},
{"s":"SOC BEV Medium","h":0,"v":0.9},{"s":"SOC BEV Medium","h":2.9,"v":0.893},{"s":"SOC BEV Medium","h":5.4,"v":0.879},{"s":"SOC BEV Medium","h":6.7,"v":0.861},{"s":"SOC BEV Medium","h":8,"v":0.836},{"s":"SOC BEV Medium","h":9.2,"v":0.832},{"s":"SOC BEV Medium","h":10.5,"v":0.847},{"s":"SOC BEV Medium","h":11.8,"v":0.875},{"s":"SOC BEV Medium","h":12.6,"v":0.896},{"s":"SOC BEV Medium","h":13,"v":0.9},{"s":"SOC BEV Medium","h":16.5,"v":0.9},{"s":"SOC BEV Medium","h":17.2,"v":0.896},{"s":"SOC BEV Medium","h":18.5,"v":0.875},{"s":"SOC BEV Medium","h":19.8,"v":0.847},{"s":"SOC BEV Medium","h":21.5,"v":0.818},{"s":"SOC BEV Medium","h":23.1,"v":0.8},{"s":"SOC BEV Medium","h":26.5,"v":0.79},{"s":"SOC BEV Medium","h":29.9,"v":0.775},{"s":"SOC BEV Medium","h":31.2,"v":0.754},{"s":"SOC BEV Medium","h":32.4,"v":0.736},{"s":"SOC BEV Medium","h":33.7,"v":0.754},{"s":"SOC BEV Medium","h":34.9,"v":0.783},{"s":"SOC BEV Medium","h":36.6,"v":0.825},{"s":"SOC BEV Medium","h":38.3,"v":0.85},{"s":"SOC BEV Medium","h":40.4,"v":0.861},{"s":"SOC BEV Medium","h":41.7,"v":0.857},{"s":"SOC BEV Medium","h":42.9,"v":0.825},{"s":"SOC BEV Medium","h":44.2,"v":0.797},{"s":"SOC BEV Medium","h":45.9,"v":0.772},{"s":"SOC BEV Medium","h":48.5,"v":0.761},{"s":"SOC BEV Medium","h":51,"v":0.75},{"s":"SOC BEV Medium","h":54,"v":0.736},{"s":"SOC BEV Medium","h":55.2,"v":0.715},{"s":"SOC BEV Medium","h":56,"v":0.704},{"s":"SOC BEV Medium","h":56.9,"v":0.708},{"s":"SOC BEV Medium","h":58.2,"v":0.733},{"s":"SOC BEV Medium","h":59.8,"v":0.783},{"s":"SOC BEV Medium","h":61.5,"v":0.832},{"s":"SOC BEV Medium","h":63.2,"v":0.85},{"s":"SOC BEV Medium","h":64.9,"v":0.854},{"s":"SOC BEV Medium","h":66.2,"v":0.843},{"s":"SOC BEV Medium","h":67.9,"v":0.807},{"s":"SOC BEV Medium","h":69.6,"v":0.775},{"s":"SOC BEV Medium","h":72.1,"v":0.765},{"s":"SOC BEV Medium","h":75,"v":0.754},{"s":"SOC BEV Medium","h":78,"v":0.74},{"s":"SOC BEV Medium","h":79.7,"v":0.711},{"s":"SOC BEV Medium","h":80.5,"v":0.683},{"s":"SOC BEV Medium","h":81.2,"v":0.68},{"s":"SOC BEV Medium","h":82.2,"v":0.69},{"s":"SOC BEV Medium","h":83.9,"v":0.733},{"s":"SOC BEV Medium","h":85.1,"v":0.775},{"s":"SOC BEV Medium","h":87.2,"v":0.79},{"s":"SOC BEV Medium","h":88.9,"v":0.795},{"s":"SOC BEV Medium","h":90.2,"v":0.79},{"s":"SOC BEV Medium","h":91.5,"v":0.761},{"s":"SOC BEV Medium","h":93.1,"v":0.718},{"s":"SOC BEV Medium","h":95.7,"v":0.683},{"s":"SOC BEV Medium","h":99,"v":0.661},{"s":"SOC BEV Medium","h":101.6,"v":0.64},{"s":"SOC BEV Medium","h":102.9,"v":0.626},{"s":"SOC BEV Medium","h":104.1,"v":0.612},{"s":"SOC BEV Medium","h":105.4,"v":0.626},{"s":"SOC BEV Medium","h":107.1,"v":0.669},{"s":"SOC BEV Medium","h":109.2,"v":0.726},{"s":"SOC BEV Medium","h":110.9,"v":0.754},{"s":"SOC BEV Medium","h":112.6,"v":0.765},{"s":"SOC BEV Medium","h":113.8,"v":0.754},{"s":"SOC BEV Medium","h":115.1,"v":0.711},{"s":"SOC BEV Medium","h":116.8,"v":0.654},{"s":"SOC BEV Medium","h":118.4,"v":0.626},{"s":"SOC BEV Medium","h":120.1,"v":0.619},{"s":"SOC BEV Medium","h":122.7,"v":0.612},{"s":"SOC BEV Medium","h":124.3,"v":0.605},{"s":"SOC BEV Medium","h":126,"v":0.594},{"s":"SOC BEV Medium","h":128.1,"v":0.562},{"s":"SOC BEV Medium","h":130.3,"v":0.58},{"s":"SOC BEV Medium","h":132.4,"v":0.601},{"s":"SOC BEV Medium","h":134,"v":0.622},{"s":"SOC BEV Medium","h":136.2,"v":0.626},{"s":"SOC BEV Medium","h":137.4,"v":0.633},{"s":"SOC BEV Medium","h":138.5,"v":0.626},{"s":"SOC BEV Medium","h":139.5,"v":0.583},{"s":"SOC BEV Medium","h":140.8,"v":0.548},{"s":"SOC BEV Medium","h":142.9,"v":0.512},{"s":"SOC BEV Medium","h":145.4,"v":0.498},{"s":"SOC BEV Medium","h":148,"v":0.491},{"s":"SOC BEV Medium","h":149.8,"v":0.48},{"s":"SOC BEV Medium","h":150.9,"v":0.459},{"s":"SOC BEV Medium","h":152.2,"v":0.444},{"s":"SOC BEV Medium","h":153.4,"v":0.455},{"s":"SOC BEV Medium","h":155.1,"v":0.498},{"s":"SOC BEV Medium","h":156.8,"v":0.555},{"s":"SOC BEV Medium","h":158.5,"v":0.59},{"s":"SOC BEV Medium","h":160.2,"v":0.612},{"s":"SOC BEV Medium","h":161.3,"v":0.612},{"s":"SOC BEV Medium","h":162.3,"v":0.59},{"s":"SOC BEV Medium","h":164,"v":0.54},{"s":"SOC BEV Medium","h":165.7,"v":0.505},{"s":"SOC BEV Medium","h":167.75,"v":0.484},
{"s":"SOC BEV Large","h":0,"v":0.9},{"s":"SOC BEV Large","h":2.9,"v":0.893},{"s":"SOC BEV Large","h":6.3,"v":0.886},{"s":"SOC BEV Large","h":7.5,"v":0.872},{"s":"SOC BEV Large","h":8.6,"v":0.861},{"s":"SOC BEV Large","h":10.1,"v":0.868},{"s":"SOC BEV Large","h":11.4,"v":0.886},{"s":"SOC BEV Large","h":12.6,"v":0.9},{"s":"SOC BEV Large","h":17,"v":0.9},{"s":"SOC BEV Large","h":17.7,"v":0.896},{"s":"SOC BEV Large","h":19,"v":0.875},{"s":"SOC BEV Large","h":20.6,"v":0.854},{"s":"SOC BEV Large","h":23.1,"v":0.84},{"s":"SOC BEV Large","h":26.5,"v":0.832},{"s":"SOC BEV Large","h":29.9,"v":0.825},{"s":"SOC BEV Large","h":31.2,"v":0.815},{"s":"SOC BEV Large","h":32.7,"v":0.8},{"s":"SOC BEV Large","h":34.1,"v":0.811},{"s":"SOC BEV Large","h":35.8,"v":0.832},{"s":"SOC BEV Large","h":37.5,"v":0.854},{"s":"SOC BEV Large","h":38.3,"v":0.865},{"s":"SOC BEV Large","h":40,"v":0.877},{"s":"SOC BEV Large","h":41.3,"v":0.875},{"s":"SOC BEV Large","h":42.5,"v":0.861},{"s":"SOC BEV Large","h":44.2,"v":0.84},{"s":"SOC BEV Large","h":46.8,"v":0.822},{"s":"SOC BEV Large","h":50.1,"v":0.811},{"s":"SOC BEV Large","h":54,"v":0.8},{"s":"SOC BEV Large","h":55.2,"v":0.79},{"s":"SOC BEV Large","h":56,"v":0.784},{"s":"SOC BEV Large","h":57.3,"v":0.79},{"s":"SOC BEV Large","h":59.4,"v":0.832},{"s":"SOC BEV Large","h":61.1,"v":0.857},{"s":"SOC BEV Large","h":63.2,"v":0.872},{"s":"SOC BEV Large","h":65.3,"v":0.872},{"s":"SOC BEV Large","h":67,"v":0.854},{"s":"SOC BEV Large","h":69.1,"v":0.832},{"s":"SOC BEV Large","h":71.7,"v":0.822},{"s":"SOC BEV Large","h":75,"v":0.807},{"s":"SOC BEV Large","h":78,"v":0.797},{"s":"SOC BEV Large","h":79.7,"v":0.779},{"s":"SOC BEV Large","h":80.7,"v":0.77},{"s":"SOC BEV Large","h":82.2,"v":0.779},{"s":"SOC BEV Large","h":84.3,"v":0.815},{"s":"SOC BEV Large","h":86.4,"v":0.832},{"s":"SOC BEV Large","h":88.9,"v":0.836},{"s":"SOC BEV Large","h":91,"v":0.818},{"s":"SOC BEV Large","h":93.1,"v":0.793},{"s":"SOC BEV Large","h":95.7,"v":0.772},{"s":"SOC BEV Large","h":99,"v":0.761},{"s":"SOC BEV Large","h":101.8,"v":0.75},{"s":"SOC BEV Large","h":102.9,"v":0.74},{"s":"SOC BEV Large","h":104.1,"v":0.727},{"s":"SOC BEV Large","h":105.8,"v":0.74},{"s":"SOC BEV Large","h":107.9,"v":0.775},{"s":"SOC BEV Large","h":110.1,"v":0.8},{"s":"SOC BEV Large","h":112.1,"v":0.818},{"s":"SOC BEV Large","h":113.8,"v":0.815},{"s":"SOC BEV Large","h":115.5,"v":0.79},{"s":"SOC BEV Large","h":117.6,"v":0.761},{"s":"SOC BEV Large","h":119.7,"v":0.74},{"s":"SOC BEV Large","h":122.2,"v":0.733},{"s":"SOC BEV Large","h":124.3,"v":0.727},{"s":"SOC BEV Large","h":126,"v":0.722},{"s":"SOC BEV Large","h":128.1,"v":0.699},{"s":"SOC BEV Large","h":130.3,"v":0.708},{"s":"SOC BEV Large","h":132.8,"v":0.733},{"s":"SOC BEV Large","h":134.4,"v":0.736},{"s":"SOC BEV Large","h":136.2,"v":0.738},{"s":"SOC BEV Large","h":137.6,"v":0.74},{"s":"SOC BEV Large","h":138.7,"v":0.726},{"s":"SOC BEV Large","h":140.4,"v":0.69},{"s":"SOC BEV Large","h":142.9,"v":0.665},{"s":"SOC BEV Large","h":145.4,"v":0.658},{"s":"SOC BEV Large","h":148,"v":0.654},{"s":"SOC BEV Large","h":150.1,"v":0.647},{"s":"SOC BEV Large","h":151.3,"v":0.633},{"s":"SOC BEV Large","h":152.6,"v":0.627},{"s":"SOC BEV Large","h":153.9,"v":0.637},{"s":"SOC BEV Large","h":155.5,"v":0.669},{"s":"SOC BEV Large","h":157.7,"v":0.704},{"s":"SOC BEV Large","h":159.8,"v":0.726},{"s":"SOC BEV Large","h":161,"v":0.727},{"s":"SOC BEV Large","h":162.3,"v":0.715},{"s":"SOC BEV Large","h":164,"v":0.69},{"s":"SOC BEV Large","h":165.7,"v":0.665},{"s":"SOC BEV Large","h":167.75,"v":0.651}
]
},
"resolve": {"scale": {"color": "independent", "strokeDash": "independent"}, "legend": {"color": "independent", "strokeDash": "independent"}},
"spacing": 66,
"vconcat": [
{
  "width": 1326, "height": 328,
  "title": {"text": "No PV System"},
  "layer": [
    {
      "data": {"name": "topP"},
      "mark": {"type": "line", "strokeWidth": 2},
      "encoding": {
        "x": {"field": "h", "type": "quantitative", "scale": {"domain": [0, 167.75], "nice": false, "zero": false},
          "axis": {"orient": "bottom", "values": [0,4,8,12,16,20,24,28,32,36,40,44,48,52,56,60,64,68,72,76,80,84,88,92,96,100,104,108,112,116,120,124,128,132,136,140,144,148,152,156,160,164], "labelExpr": "'' + (datum.value % 24)", "labelAngle": -45, "labelAlign": "right", "labelBaseline": "middle", "labelOffset": 6, "labelPadding": 29, "tickSize": -10, "tickColor": "#4d4d4d", "domainColor": "#9a9a9a", "grid": true, "gridColor": "#e2e2e2", "labelColor": "#262626", "title": null, "labelFlush": false, "labelOverlap": false}},
        "y": {"field": "p", "type": "quantitative", "scale": {"domain": [0, 4], "nice": false},
          "axis": {"orient": "left", "values": [0,1,2,3,4], "labelExpr": "'' + datum.value", "tickSize": -13, "labelPadding": 21, "tickColor": "#a6c8e6", "domainColor": "#a6c8e6", "labelColor": "#0072BD", "titleColor": "#0072BD", "title": "Active Power [kW]", "titlePadding": 8, "grid": true, "gridColor": "#e3ecf4", "labelFlush": false}},
        "color": {"datum": "Net Active Power [kW]", "type": "nominal",
          "scale": {"domain": ["Net Active Power [kW]", "SOC PHEV", "SOC BEV Small", "SOC BEV Medium", "SOC BEV Large"], "range": ["#0072BD", "#D95319", "#D95319", "#D95319", "#D95319"]},
          "legend": {"orient": "none", "legendX": 1048, "legendY": 19, "title": null, "symbolType": "stroke", "symbolSize": 1681, "symbolStrokeWidth": 2, "symbolOffset": 3, "clipHeight": 23, "labelFontSize": 18, "labelColor": "#000000", "labelFont": "Liberation Sans", "labelLimit": 400, "strokeColor": "#262626", "fillColor": "white", "padding": 1, "labelOffset": 7, "rowPadding": 0}},
        "strokeDash": {"datum": "Net Active Power [kW]", "type": "nominal",
          "scale": {"domain": ["Net Active Power [kW]", "SOC PHEV", "SOC BEV Small", "SOC BEV Medium", "SOC BEV Large"], "range": [[1, 0], [1, 0], [7, 5], [2, 2], [8, 3, 2, 3]]},
          "legend": {"orient": "none", "legendX": 1048, "legendY": 19, "title": null, "symbolType": "stroke", "symbolSize": 1681, "symbolStrokeWidth": 2, "symbolOffset": 3, "clipHeight": 23, "labelFontSize": 18, "labelColor": "#000000", "labelFont": "Liberation Sans", "labelLimit": 400, "strokeColor": "#262626", "fillColor": "white", "padding": 1, "labelOffset": 7, "rowPadding": 0}}
      }
    },
    {
      "data": {"name": "topS"},
      "mark": {"type": "line", "strokeWidth": 1.8},
      "encoding": {
        "x": {"field": "h", "type": "quantitative",
          "axis": {"orient": "top", "values": [0,4,8,12,16,20,24,28,32,36,40,44,48,52,56,60,64,68,72,76,80,84,88,92,96,100,104,108,112,116,120,124,128,132,136,140,144,148,152,156,160,164], "labels": false, "tickSize": -10, "tickColor": "#4d4d4d", "domainColor": "#a6a6a6", "grid": false, "title": null}},
        "y": {"field": "v", "type": "quantitative", "scale": {"domain": [0.2, 1], "nice": false, "zero": false},
          "axis": {"orient": "right", "values": [0.2, 0.4, 0.6, 0.8, 1], "format": "~g", "tickSize": -13, "labelPadding": 21, "tickColor": "#f0b49a", "domainColor": "#f0b49a", "labelColor": "#D95319", "titleColor": "#D95319", "title": "SOC [p.u.]", "titleAngle": 270, "titleBaseline": "top", "titlePadding": 8, "grid": false, "labelFlush": false}},
        "color": {"field": "s", "type": "nominal",
          "scale": {"domain": ["Net Active Power [kW]", "SOC PHEV", "SOC BEV Small", "SOC BEV Medium", "SOC BEV Large"], "range": ["#0072BD", "#D95319", "#D95319", "#D95319", "#D95319"]},
          "legend": {"orient": "none", "legendX": 1048, "legendY": 19, "title": null, "symbolType": "stroke", "symbolSize": 1681, "symbolStrokeWidth": 2, "symbolOffset": 3, "clipHeight": 23, "labelFontSize": 18, "labelColor": "#000000", "labelFont": "Liberation Sans", "labelLimit": 400, "strokeColor": "#262626", "fillColor": "white", "padding": 1, "labelOffset": 7, "rowPadding": 0}},
        "strokeDash": {"field": "s", "type": "nominal",
          "scale": {"domain": ["Net Active Power [kW]", "SOC PHEV", "SOC BEV Small", "SOC BEV Medium", "SOC BEV Large"], "range": [[1, 0], [1, 0], [7, 5], [2, 2], [8, 3, 2, 3]]},
          "legend": {"orient": "none", "legendX": 1048, "legendY": 19, "title": null, "symbolType": "stroke", "symbolSize": 1681, "symbolStrokeWidth": 2, "symbolOffset": 3, "clipHeight": 23, "labelFontSize": 18, "labelColor": "#000000", "labelFont": "Liberation Sans", "labelLimit": 400, "strokeColor": "#262626", "fillColor": "white", "padding": 1, "labelOffset": 7, "rowPadding": 0}}
      }
    }
  ],
  "resolve": {"scale": {"y": "independent"}, "axis": {"x": "independent", "y": "independent"}}
},
{
  "width": 1326, "height": 328,
  "title": {"text": "2.5 kWp PV System"},
  "layer": [
    {
      "data": {"name": "botP"},
      "mark": {"type": "line", "strokeWidth": 2},
      "encoding": {
        "x": {"field": "h", "type": "quantitative", "scale": {"domain": [0, 167.75], "nice": false, "zero": false},
          "axis": {"orient": "bottom", "values": [0,4,8,12,16,20,24,28,32,36,40,44,48,52,56,60,64,68,72,76,80,84,88,92,96,100,104,108,112,116,120,124,128,132,136,140,144,148,152,156,160,164], "labelExpr": "'' + (datum.value % 24)", "labelAngle": -45, "labelAlign": "right", "labelBaseline": "middle", "labelOffset": 6, "labelPadding": 29, "tickSize": -10, "tickColor": "#4d4d4d", "domainColor": "#9a9a9a", "grid": true, "gridColor": "#e2e2e2", "labelColor": "#262626", "title": "Hour of the day", "titleColor": "#262626", "titlePadding": 8, "labelFlush": false, "labelOverlap": false}},
        "y": {"field": "p", "type": "quantitative", "scale": {"domain": [-3, 3], "nice": false},
          "axis": {"orient": "left", "values": [-3,-2,-1,0,1,2,3], "labelExpr": "'' + datum.value", "tickSize": -13, "labelPadding": 21, "tickColor": "#a6c8e6", "domainColor": "#a6c8e6", "labelColor": "#0072BD", "titleColor": "#0072BD", "title": "Active Power [kW]", "titlePadding": 8, "grid": true, "gridColor": "#e3ecf4", "labelFlush": false}},
        "color": {"datum": "Net Active Power [kW]", "type": "nominal",
          "scale": {"domain": ["Net Active Power [kW]", "SOC PHEV", "SOC BEV Small", "SOC BEV Medium", "SOC BEV Large"], "range": ["#0072BD", "#D95319", "#D95319", "#D95319", "#D95319"]}, "legend": null},
        "strokeDash": {"datum": "Net Active Power [kW]", "type": "nominal",
          "scale": {"domain": ["Net Active Power [kW]", "SOC PHEV", "SOC BEV Small", "SOC BEV Medium", "SOC BEV Large"], "range": [[1, 0], [1, 0], [7, 5], [2, 2], [8, 3, 2, 3]]}, "legend": null}
      }
    },
    {
      "data": {"name": "botS"},
      "mark": {"type": "line", "strokeWidth": 1.8},
      "encoding": {
        "x": {"field": "h", "type": "quantitative",
          "axis": {"orient": "top", "values": [0,4,8,12,16,20,24,28,32,36,40,44,48,52,56,60,64,68,72,76,80,84,88,92,96,100,104,108,112,116,120,124,128,132,136,140,144,148,152,156,160,164], "labels": false, "tickSize": -10, "tickColor": "#4d4d4d", "domainColor": "#a6a6a6", "grid": false, "title": null}},
        "y": {"field": "v", "type": "quantitative", "scale": {"domain": [0.2, 0.9], "nice": false, "zero": false},
          "axis": {"orient": "right", "values": [0.2, 0.3, 0.4, 0.5, 0.6, 0.7, 0.8, 0.9], "format": "~g", "tickSize": -13, "labelPadding": 21, "tickColor": "#f0b49a", "domainColor": "#f0b49a", "labelColor": "#D95319", "titleColor": "#D95319", "title": "SOC [p.u.]", "titleAngle": 270, "titleBaseline": "top", "titlePadding": 8, "grid": false, "labelFlush": false}},
        "color": {"field": "s", "type": "nominal",
          "scale": {"domain": ["Net Active Power [kW]", "SOC PHEV", "SOC BEV Small", "SOC BEV Medium", "SOC BEV Large"], "range": ["#0072BD", "#D95319", "#D95319", "#D95319", "#D95319"]}, "legend": null},
        "strokeDash": {"field": "s", "type": "nominal",
          "scale": {"domain": ["Net Active Power [kW]", "SOC PHEV", "SOC BEV Small", "SOC BEV Medium", "SOC BEV Large"], "range": [[1, 0], [1, 0], [7, 5], [2, 2], [8, 3, 2, 3]]}, "legend": null}
      }
    }
  ],
  "resolve": {"scale": {"y": "independent"}, "axis": {"x": "independent", "y": "independent"}}
}
]
}
